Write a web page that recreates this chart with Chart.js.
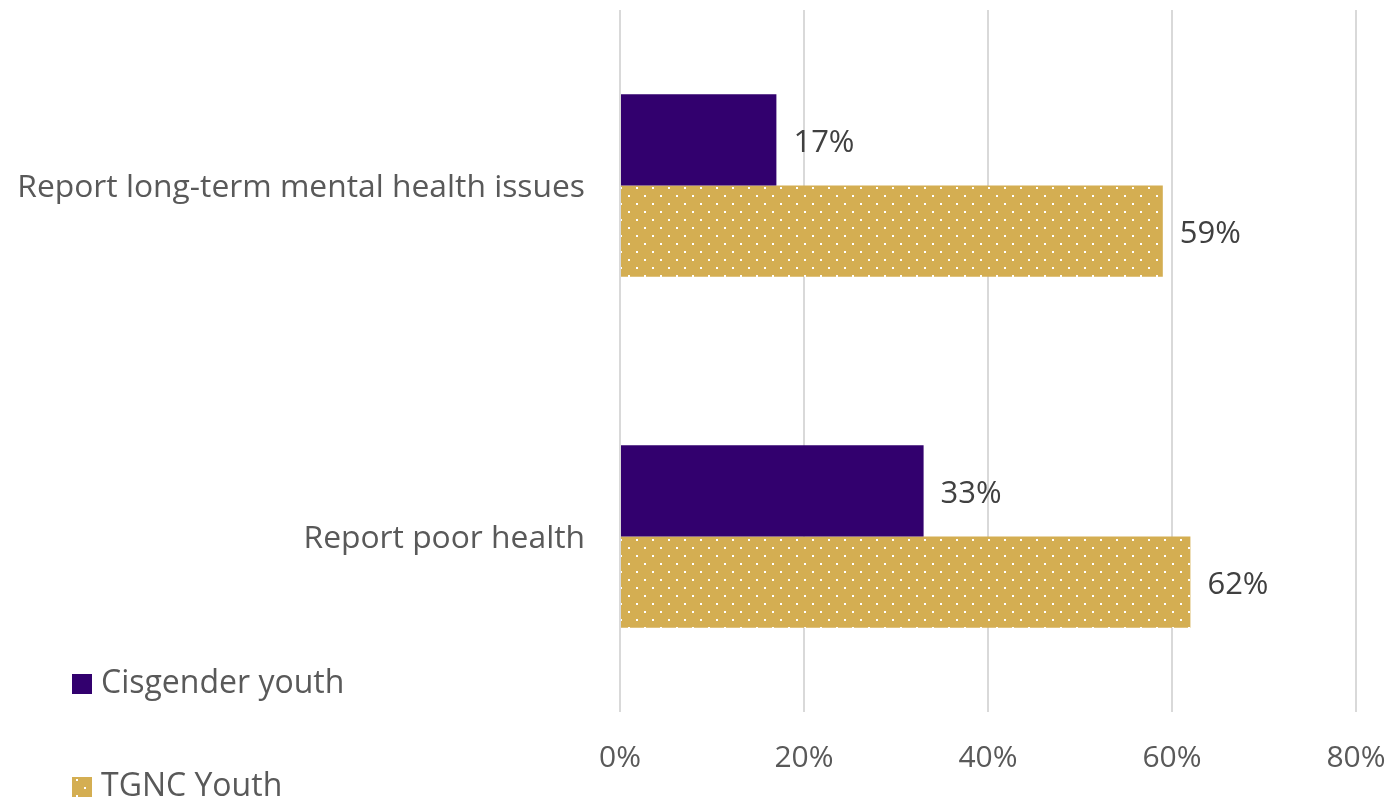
<!DOCTYPE html>
<html>
<head>
<meta charset="utf-8">
<script src="https://cdn.jsdelivr.net/npm/chart.js@4"></script>
<style>
  html, body { margin: 0; padding: 0; background: #fff; }
  #wrap { position: relative; width: 1391px; height: 803px; }
</style>
</head>
<body>
<div id="wrap"><canvas id="health-chart"></canvas></div>
<script>
const categories = ["Report long-term mental health issues", "Report poor health"];
const cisgenderValues = [17, 33];
const tgncValues = [59, 62];
const seriesNames = ["Cisgender youth", "TGNC Youth"];
const xTicks = [0, 20, 40, 60, 80];

const PURPLE = "#32006e";
const GOLD = "#d4ae52";
const FONT = "'Open Sans', 'Noto Sans', sans-serif";

// dotted fill used for the TGNC bars
function dotPattern() {
  const c = document.createElement("canvas");
  c.width = 16;
  c.height = 16;
  const g = c.getContext("2d");
  g.fillStyle = GOLD;
  g.fillRect(0, 0, 16, 16);
  g.fillStyle = "#ffffff";
  g.fillRect(4, 3, 2, 2);
  g.fillRect(12, 11, 2, 2);
  return g.createPattern(c, "repeat");
}
const goldFill = dotPattern();

const valueLabels = {
  id: "valueLabels",
  afterDatasetsDraw(chart) {
    const ctx = chart.ctx;
    ctx.save();
    ctx.font = "31px " + FONT;
    ctx.fillStyle = "#404040";
    ctx.textAlign = "left";
    ctx.textBaseline = "middle";
    chart.data.datasets.forEach((ds, i) => {
      chart.getDatasetMeta(i).data.forEach((bar, j) => {
        ctx.fillText(ds.data[j] + "%", bar.x + 17, bar.y + 3);
      });
    });
    ctx.restore();
  }
};

const sideLegend = {
  id: "sideLegend",
  afterDraw(chart) {
    const ctx = chart.ctx;
    const rows = [
      { fill: PURPLE, y: 684 },
      { fill: goldFill, y: 787 }
    ];
    ctx.save();
    ctx.font = "32px " + FONT;
    ctx.textBaseline = "middle";
    rows.forEach((r, i) => {
      ctx.fillStyle = r.fill;
      ctx.fillRect(72, r.y - 10, 20, 20);
      ctx.fillStyle = "#595959";
      ctx.fillText(seriesNames[i], 101, r.y);
    });
    ctx.restore();
  }
};

new Chart(document.getElementById("health-chart"), {
  type: "bar",
  data: {
    labels: categories,
    datasets: [
      {
        label: seriesNames[0],
        data: cisgenderValues,
        backgroundColor: PURPLE,
        barPercentage: 1,
        categoryPercentage: 0.52
      },
      {
        label: seriesNames[1],
        data: tgncValues,
        backgroundColor: goldFill,
        barPercentage: 1,
        categoryPercentage: 0.52
      }
    ]
  },
  options: {
    indexAxis: "y",
    responsive: true,
    maintainAspectRatio: false,
    animation: false,
    layout: { padding: { top: 10, right: 35, left: 0, bottom: 0 } },
    plugins: {
      legend: { display: false },
      tooltip: { enabled: false }
    },
    scales: {
      x: {
        min: 0,
        max: 80,
        afterBuildTicks(scale) {
          scale.ticks = xTicks.map(v => ({ value: v }));
        },
        afterFit(scale) {
          scale.height = 91;
          scale.paddingLeft = 0;
          scale.paddingRight = 0;
        },
        grid: { color: "#d9d9d9", lineWidth: 2, drawTicks: false },
        border: { display: false },
        ticks: {
          padding: 28,
          maxRotation: 0,
          color: "#595959",
          font: { family: FONT, size: 30 },
          callback: v => v + "%"
        }
      },
      y: {
        afterFit(scale) {
          scale.width = 620;
          scale.paddingTop = 0;
          scale.paddingBottom = 0;
        },
        grid: { display: false, drawTicks: false },
        border: { display: false },
        ticks: {
          padding: 35,
          labelOffset: 2,
          color: "#595959",
          font: { family: FONT, size: 31.8 }
        }
      }
    }
  },
  plugins: [valueLabels, sideLegend]
});
</script>
</body>
</html>
